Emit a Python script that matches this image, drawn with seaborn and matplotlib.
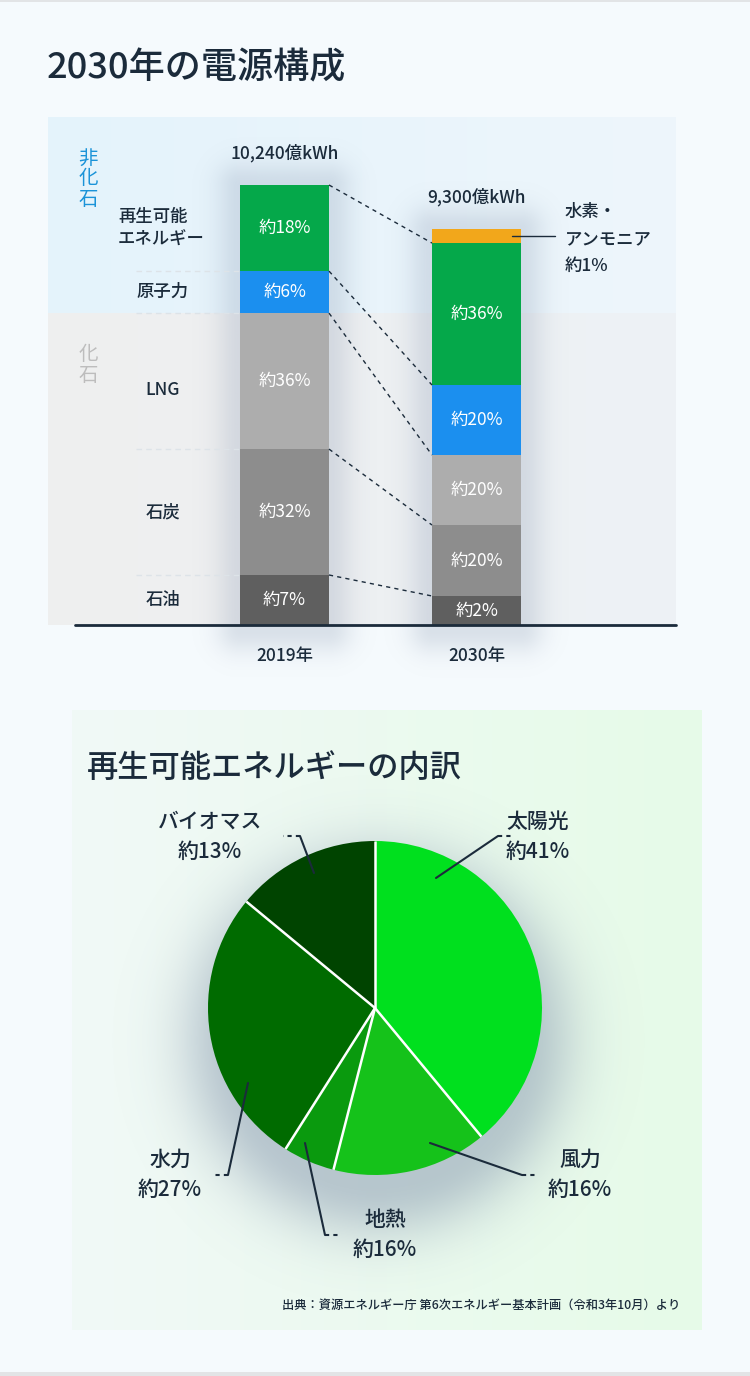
import numpy as np
import pandas as pd
import matplotlib
matplotlib.use("Agg")
import matplotlib.pyplot as plt
import seaborn as sns

# ---------------- data ----------------
years = ["2019年", "2030年"]
totals_text = ["10,240億kWh", "9,300億kWh"]
sources = ["石油", "石炭", "LNG", "原子力", "再生可能エネルギー", "水素・アンモニア"]
# segment sizes (億kWh)
v2019 = [1164, 2930, 3165, 977, 2004, 0]
v2030 = [675, 1652, 1629, 1629, 3304, 326]
pct2019 = ["約7%", "約32%", "約36%", "約6%", "約18%", ""]
pct2030 = ["約2%", "約20%", "約20%", "約20%", "約36%", ""]
bar_colors = ["#5f5f5f", "#8d8d8d", "#adadad", "#1b8fef", "#05a84a", "#f2a71b"]
left_labels = ["石油", "石炭", "LNG", "原子力", "再生可能\nエネルギー"]

pie_labels = ["太陽光", "風力", "地熱", "水力", "バイオマス"]
pie_values = [39, 15, 5, 27, 14]
pie_text = ["約41%", "約16%", "約16%", "約27%", "約13%"]
pie_colors = ["#00e01e", "#15c21a", "#0a9a0e", "#006b00", "#004400"]

# ---------------- style ----------------
sns.set_theme(style="white")
plt.rcParams["font.family"] = ["Noto Sans CJK JP", "DejaVu Sans"]
NAVY = "#1b2b3b"
BG = "#f5fafd"

W, H = 750, 1376
fig = plt.figure(figsize=(W / 100, H / 100), dpi=100, facecolor=BG)


def rect(l, t, r, b):
    return [l / W, 1 - b / H, (r - l) / W, (b - t) / H]


def shadow_img(ax, x0, x1, y0, y1, spread, color, strength, ext):
    ex0, ex1, ey0, ey1 = ext
    xs = np.linspace(ex0, ex1, 400)
    ys = np.linspace(ey0, ey1, 400)
    X, Y = np.meshgrid(xs, ys)
    dx = np.maximum(np.maximum(x0 - X, X - x1), 0)
    dy = np.maximum(np.maximum(y0 - Y, Y - y1), 0)
    d = np.sqrt(dx ** 2 + dy ** 2)
    a = strength * np.exp(-(d / spread) ** 2)
    img = np.zeros((400, 400, 4))
    img[..., :3] = matplotlib.colors.to_rgb(color)
    img[..., 3] = a
    ax.imshow(img, extent=[ex0, ex1, ey1, ey0], origin="upper", aspect="auto",
              interpolation="bilinear", zorder=1)


# ---------------- background (pixel coordinates) ----------------
bg = fig.add_axes([0, 0, 1, 1], zorder=0)
bg.set_xlim(0, W)
bg.set_ylim(H, 0)
bg.axis("off")
bg.add_patch(plt.Rectangle((0, 0), W, 2, color="#e2e4e6", lw=0))
bg.add_patch(plt.Rectangle((0, H - 4), W, 4, color="#e2e4e6", lw=0))

grad = np.linspace(0, 1, 1024)[None, :]


def hgrad(ax, c0, c1, ext, z=0.5):
    c0 = np.array(matplotlib.colors.to_rgb(c0))
    c1 = np.array(matplotlib.colors.to_rgb(c1))
    img = c0[None, None, :] * (1 - grad[..., None]) + c1[None, None, :] * grad[..., None]
    ax.imshow(img, extent=ext, aspect="auto", interpolation="bicubic", zorder=z)


hgrad(bg, "#e4f3fc", "#eef6fb", [48, 676, 313, 117])
hgrad(bg, "#efefef", "#edf2f6", [48, 676, 625, 313])
hgrad(bg, "#f1f9f7", "#e6fbe8", [72, 702, 1330, 710])

# bar shadows
shadow_img(bg, 240, 329, 185, 630, 24, "#7788a3", 0.22, [150, 420, 100, 720])
shadow_img(bg, 432, 521, 229, 630, 24, "#7788a3", 0.22, [342, 612, 140, 720])

# pie glow (shifted downward)
yy, xx = np.mgrid[760:1360, 60:700]
dist = np.sqrt((xx - 378) ** 2 + (yy - 1040) ** 2)
alpha = 0.5 * np.exp(-(np.maximum(dist - 145, 0) / 55) ** 2)
gimg = np.zeros(xx.shape + (4,))
gimg[..., :3] = matplotlib.colors.to_rgb("#8293ab")
gimg[..., 3] = alpha
bg.imshow(gimg, extent=[60, 700, 1360, 760], aspect="auto", interpolation="bilinear", zorder=1)

# ---------------- stacked bar chart ----------------
bw = 89 / 192
x_lo = -(284.5 - 48) / 192
x_hi = 1 + (676 - 476.5) / 192
PX = 10240 / 440  # value per pixel
ytop = (625 - 117) * PX

ax = fig.add_axes(rect(48, 117, 676, 625), zorder=2)
ax.patch.set_alpha(0)

cum19 = np.cumsum(v2019)
cum30 = np.cumsum(v2030)
for i in range(len(sources) - 1, -1, -1):
    df = pd.DataFrame({"year": years, "value": [cum19[i], cum30[i]]})
    sns.barplot(data=df, x="year", y="value", color=bar_colors[i], saturation=1,
                width=bw, linewidth=0, edgecolor="none", ax=ax, zorder=3)

ax.set_xlim(x_lo, x_hi)
ax.set_ylim(0, ytop)
ax.axis("off")

FS = 12.5
# segment labels
for j, (vals, pcts, cum) in enumerate([(v2019, pct2019, cum19), (v2030, pct2030, cum30)]):
    for i in range(len(vals)):
        if pcts[i]:
            ax.text(j, cum[i] - vals[i] / 2, pcts[i], color="white", ha="center",
                    va="center", fontsize=FS, zorder=5)

# totals above bars
for j, (t, c) in enumerate(zip(totals_text, [cum19[-1], cum30[-1]])):
    ax.annotate(t, (j, c), xytext=(0, 23), textcoords="offset points",
                ha="center", va="center", fontsize=FS, color=NAVY, fontweight="medium")

# connector dashed lines
for i in range(5):
    ax.plot([bw / 2, 1 - bw / 2], [cum19[i], cum30[i]], color=NAVY, lw=1,
            ls=(0, (3, 3)), zorder=4)

# faint separators on the left
sep_x0 = (136 - 284.5) / 192
for i in range(4):
    ax.plot([sep_x0, -bw / 2], [cum19[i], cum19[i]], color="#dde3e8", lw=1,
            ls=(0, (4, 3)), zorder=2)

# left category labels
lab_x = (163 - 284.5) / 192
lab_dy = [0, 0, -9 * PX, 0]
for i in range(4):
    ax.text(lab_x, cum19[i] - v2019[i] / 2 + lab_dy[i], left_labels[i], ha="center",
            va="center", fontsize=FS, color=NAVY, fontweight="medium")
ax.text((118 - 284.5) / 192, cum19[4] - v2019[4] / 2, left_labels[4], ha="left",
        va="center", fontsize=FS, color=NAVY, linespacing=1.35, fontweight="medium")

# hydrogen annotation
h2y = cum30[5] - v2030[5] / 2
ax.plot([(512 - 476.5) / 192 + 1, (555 - 476.5) / 192 + 1], [h2y, h2y], color=NAVY, lw=1, zorder=5)
hx = (565 - 476.5) / 192 + 1
for s, py in zip(["水素・", "アンモニア", "約1%"], [212, 240, 266]):
    ax.text(hx, (625 - py) * PX, s, ha="left", va="center", fontsize=FS, color=NAVY,
            fontweight="medium")

# ---------------- pie chart ----------------
R = 167
cx, cy = 375, 1008
pax = fig.add_axes(rect(cx - R, cy - R, cx + R, cy + R), zorder=2)
pax.patch.set_alpha(0)
wedges, _ = pax.pie(pie_values, colors=pie_colors, startangle=90, counterclock=False,
                    wedgeprops=dict(edgecolor="none", linewidth=0), radius=1)
for wdg in wedges:
    th = np.deg2rad(wdg.theta1)
    pax.plot([0, np.cos(th)], [0, np.sin(th)], color="white", lw=1.8, zorder=5,
             solid_capstyle="butt")
pax.set_xlim(-1, 1)
pax.set_ylim(-1, 1)
pax.set_aspect("equal")
pax.axis("off")

# ---------------- overlay texts ----------------
ov = fig.add_axes([0, 0, 1, 1], zorder=5)
ov.patch.set_alpha(0)
ov.set_xlim(0, W)
ov.set_ylim(H, 0)
ov.axis("off")

ov.text(47, 68, "2030年の電源構成", fontsize=26, color=NAVY, ha="left", va="center",
        fontweight="medium")
ov.text(87, 768, "再生可能エネルギーの内訳", fontsize=22.5, color=NAVY, ha="left", va="center",
        fontweight="medium")

# axis base line and year labels
ov.plot([75, 676], [625, 625], color=NAVY, lw=2, zorder=6)
for x, y in zip([284.5, 476.5], years):
    ov.text(x, 656, y, ha="center", va="center", fontsize=12.5, color=NAVY, fontweight="medium")

# side group labels
ov.text(88, 179, "非\n化\n石", ha="center", va="center", fontsize=14, color="#1a93d8",
        linespacing=0.95)
ov.text(88, 365, "化\n石", ha="center", va="center", fontsize=14, color="#bdbdbd",
        linespacing=0.95)

# pie labels and leaders
pie_pos = [(538, 837), (580, 1175), (385, 1235), (170, 1175), (210, 837)]
leaders = [
    [(436, 878), (498, 836), (512, 836)],
    [(430, 1143), (522, 1175), (537, 1175)],
    [(305, 1143), (325, 1235), (340, 1235)],
    [(248, 1083), (228, 1175), (213, 1175)],
    [(314, 873), (300, 836), (283, 836)],
]
for (x, y), name, pct, ld in zip(pie_pos, pie_labels, pie_text, leaders):
    ov.text(x, y - 15, name, ha="center", va="center", fontsize=15, color=NAVY,
            fontweight="medium")
    ov.text(x, y + 15, pct, ha="center", va="center", fontsize=15, color=NAVY,
            fontweight="medium")
    (x0, y0), (x1, y1), (x2, y2) = ld
    ov.plot([x0, x1], [y0, y1], color=NAVY, lw=1.5, zorder=6)
    ov.plot([x1, x2], [y1, y2], color=NAVY, lw=1.5, ls=(0, (2, 2)), zorder=6)

ov.text(680, 1305, "出典：資源エネルギー庁 第6次エネルギー基本計画（令和3年10月）より",
        ha="right", va="center", fontsize=8.8, color=NAVY, fontweight="medium")

fig.savefig("out.png", dpi=100, facecolor=BG)
